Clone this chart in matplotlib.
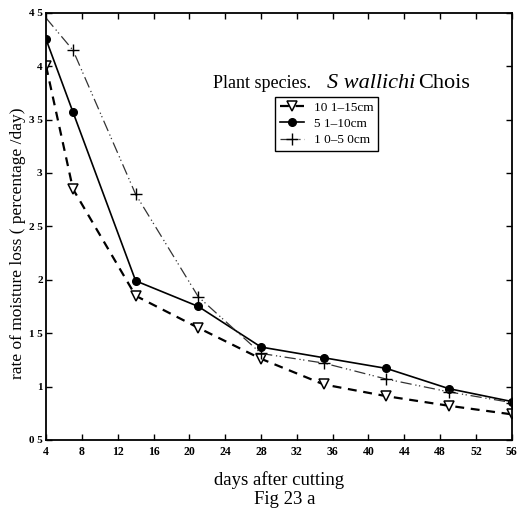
import matplotlib
matplotlib.use("Agg")
import matplotlib.pyplot as plt

# days after cutting
days = [4, 7, 14, 21, 28, 35, 42, 49, 56]

# rate of moisture loss (percentage/day) for each cutting diameter class
loss_10_15 = [4.00, 2.85, 1.85, 1.55, 1.26, 1.02, 0.91, 0.82, 0.74]
loss_5_10 = [4.25, 3.57, 1.99, 1.75, 1.37, 1.27, 1.17, 0.98, 0.86]
loss_1_5 = [4.45, 4.15, 2.80, 1.84, 1.31, 1.22, 1.07, 0.95, 0.85]

series_labels = ["10 1\u201315cm", "5 1\u201310cm", "1 0\u20135 0cm"]

x_ticks = [4, 8, 12, 16, 20, 24, 28, 32, 36, 40, 44, 48, 52, 56]
y_ticks = [0.5, 1.0, 1.5, 2.0, 2.5, 3.0, 3.5, 4.0, 4.5]
y_tick_labels = ["0 5", "1", "1 5", "2", "2 5", "3", "3 5", "4", "4 5"]

plt.rcParams["font.family"] = ["Liberation Serif", "DejaVu Serif"]

fig = plt.figure(figsize=(5.18, 5.11), dpi=100)
ax = fig.add_axes([0.089, 0.139, 0.899, 0.836])

ax.plot(days, loss_10_15, color="black", linestyle=(0, (4, 3)), linewidth=1.6,
        marker="v", markersize=7, markerfacecolor="white", markeredgecolor="black",
        markeredgewidth=1.1, label=series_labels[0])
ax.plot(days, loss_5_10, color="black", linestyle="-", linewidth=1.2,
        marker="o", markersize=5.5, markerfacecolor="black", label=series_labels[1])
ax.plot(days, loss_1_5, color="#333333", linestyle=(0, (9, 3, 1, 2, 1, 3)), linewidth=0.9,
        marker="+", markersize=8, markeredgewidth=1.0, markeredgecolor="black",
        markevery=list(range(1, len(days))), label=series_labels[2])

ax.set_xlim(4, 56)
ax.set_ylim(0.5, 4.5)
ax.set_xticks(x_ticks)
ax.set_xticklabels([str(t) for t in x_ticks], fontsize=8.5, fontweight="bold")
ax.set_yticks(y_ticks)
ax.set_yticklabels(y_tick_labels, fontsize=8, fontweight="bold")
ax.tick_params(direction="in", top=True, right=True, length=4, width=1, pad=4)
ax.tick_params(axis="y", pad=2.5)
for s in ax.spines.values():
    s.set_linewidth(1.3)

ax.set_xlabel("days after cutting", fontsize=13.5, labelpad=10)
ax.set_ylabel("rate of moisture loss ( percentage /day)", fontsize=12.5)
ax.yaxis.set_label_coords(-0.043, 0.461)
fig.text(0.55, 0.006, "Fig 23 a", fontsize=13.5, ha="center", va="bottom")

ax.text(0.358, 0.824, "Plant species.", transform=ax.transAxes, fontsize=13,
        ha="left", va="baseline")
ax.text(0.603, 0.824, "S wallichi", transform=ax.transAxes, fontsize=16,
        style="italic", ha="left", va="baseline")
ax.text(0.798, 0.824, "Chois", transform=ax.transAxes, fontsize=16,
        ha="left", va="baseline")

leg = ax.legend(loc="upper left", bbox_to_anchor=(0.492, 0.803), fontsize=9.5,
                frameon=True, fancybox=False, edgecolor="black", framealpha=1,
                handlelength=1.8, handletextpad=0.8, borderpad=0.35,
                labelspacing=0.3, borderaxespad=0)
leg.get_frame().set_linewidth(1.0)

fig.savefig("out.png", dpi=100)
